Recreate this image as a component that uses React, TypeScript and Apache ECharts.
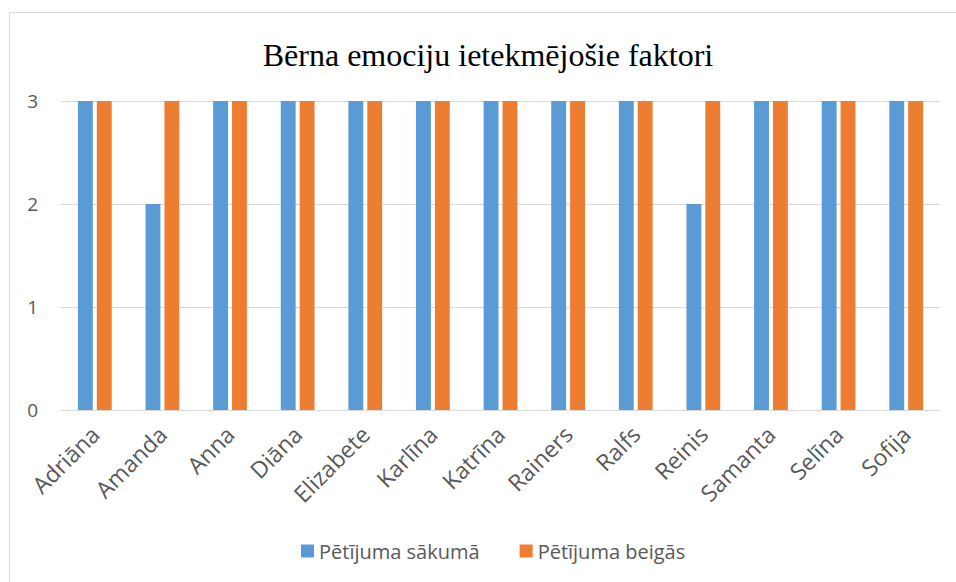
import React, { useEffect, useRef } from "react";
import * as echarts from "echarts";

const categories = ["Adriāna", "Amanda", "Anna", "Diāna", "Elizabete", "Karlīna", "Katrīna", "Rainers", "Ralfs", "Reinis", "Samanta", "Selīna", "Sofija"];
const startValues = [3, 2, 3, 3, 3, 3, 3, 3, 3, 2, 3, 3, 3];
const endValues = [3, 3, 3, 3, 3, 3, 3, 3, 3, 3, 3, 3, 3];
const seriesNames = ["Pētījuma sākumā", "Pētījuma beigās"];
const yTicks = { min: 0, max: 3, interval: 1 };

export default function App() {
  const ref = useRef<HTMLDivElement>(null);
  useEffect(() => {
    if (!ref.current) return;
    const chart = echarts.init(ref.current, undefined, { renderer: "svg" });
    const font = "'Open Sans', 'Noto Sans', sans-serif";
    chart.setOption({
      animation: false,
      backgroundColor: "#ffffff",
      title: {
        text: "Bērna emociju ietekmējošie faktori",
        left: 483,
        top: 34,
        textAlign: "center",
        textStyle: { fontFamily: "'Liberation Serif', serif", fontSize: 32, fontWeight: "normal", color: "#000000" },
      },
      graphic: [
        {
          type: "rect",
          shape: { x: 9.5, y: 12.5, width: 960, height: 600 },
          style: { fill: "none", stroke: "#d9d9d9", lineWidth: 1 },
          silent: true,
        },
      ],
      legend: {
        bottom: 16,
        left: 296,
        itemWidth: 13,
        itemHeight: 13,
        itemGap: 40,
        icon: "rect",
        textStyle: { fontFamily: font, fontSize: 20, color: "#595959" },
        data: seriesNames,
      },
      grid: { left: 61, right: 16, top: 101, bottom: 172, containLabel: false },
      xAxis: {
        type: "category",
        data: categories,
        axisLine: { lineStyle: { color: "#d9d9d9" } },
        axisTick: { show: false },
        axisLabel: { rotate: 45, color: "#595959", fontFamily: font, fontSize: 23, margin: 20 },
      },
      yAxis: {
        type: "value",
        min: yTicks.min,
        max: yTicks.max,
        interval: yTicks.interval,
        axisLine: { show: false },
        axisTick: { show: false },
        splitLine: { lineStyle: { color: "#d9d9d9" } },
        axisLabel: { color: "#595959", fontFamily: font, fontSize: 19, margin: 23 },
      },
      series: [
        { name: seriesNames[0], type: "bar", data: startValues, itemStyle: { color: "#5b9bd5" }, barWidth: "22%", barGap: "27%" },
        { name: seriesNames[1], type: "bar", data: endValues, itemStyle: { color: "#ed7d31" }, barWidth: "22%", barGap: "27%" },
      ],
    });
    return () => chart.dispose();
  }, []);
  return <div ref={ref} style={{ position: "fixed", left: 0, top: 0, width: 956, height: 582 }} />;
}
